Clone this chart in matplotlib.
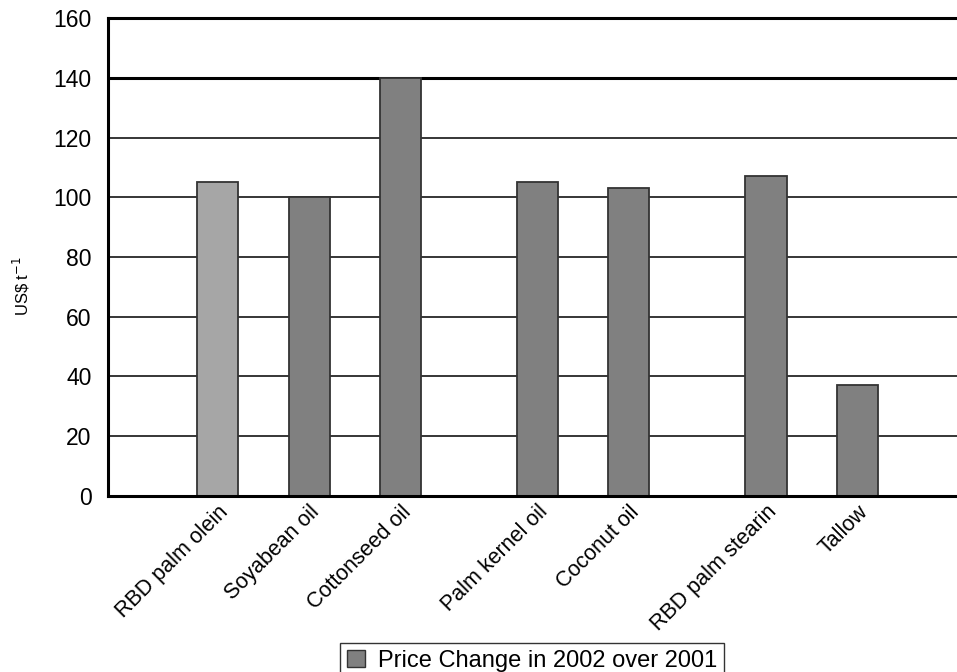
import matplotlib.pyplot as plt

plt.rcParams['font.family'] = ['Liberation Sans', 'DejaVu Sans']

# oils and fats, price change 2002 over 2001 (US$ per tonne)
products = ['RBD palm olein', 'Soyabean oil', 'Cottonseed oil', 'Palm kernel oil',
            'Coconut oil', 'RBD palm stearin', 'Tallow']
price_change = [105, 100, 140, 105, 103, 107, 37]
slot = [0, 1, 2, 3.5, 4.5, 6, 7]
colours = ['#a6a6a6', '#808080', '#808080', '#808080', '#808080', '#808080', '#808080']

fig = plt.figure(figsize=(9.57, 6.72), dpi=100)
ax = fig.add_axes([0.1129, 0.262, 0.8871, 0.711])

# gridlines behind the bars
for y in range(20, 160, 20):
    ax.axhline(y, color='black', lw=2.2 if y == 140 else 1.1, zorder=1)

ax.bar(slot, price_change, width=0.45, color=colours, edgecolor='#333333',
       linewidth=1.3, zorder=2)
# legend handle uses the darker grey
leg_handle = plt.Rectangle((0, 0), 1, 1, facecolor='#808080', edgecolor='#333333')

ax.set_xlim(-1.2, 8.09)
ax.set_ylim(0, 160)
ax.set_yticks(range(0, 161, 20))
ax.tick_params(axis='y', length=0, pad=12, labelsize=16.5)
ax.tick_params(axis='x', length=0, pad=4)
ax.set_xticks(slot)
ax.set_xticklabels(products, rotation=45, ha='right', va='top',
                   rotation_mode='anchor', fontsize=15.5)

ax.spines['right'].set_visible(False)
for s in ['top', 'left', 'bottom']:
    ax.spines[s].set_linewidth(2.2)

fig.text(0.022, 0.574, 'US\\$ t$^{-1}$', rotation=90, ha='center', va='center', fontsize=12)

fig.legend([leg_handle], ['Price Change in 2002 over 2001'], loc='lower center',
           bbox_to_anchor=(0.556, -0.014), fontsize=17, frameon=True, fancybox=False,
           edgecolor='black', handlelength=0.75, handleheight=0.75, handletextpad=0.55,
           borderpad=0.3, borderaxespad=0.1)

fig.savefig('out.png', dpi=100)
